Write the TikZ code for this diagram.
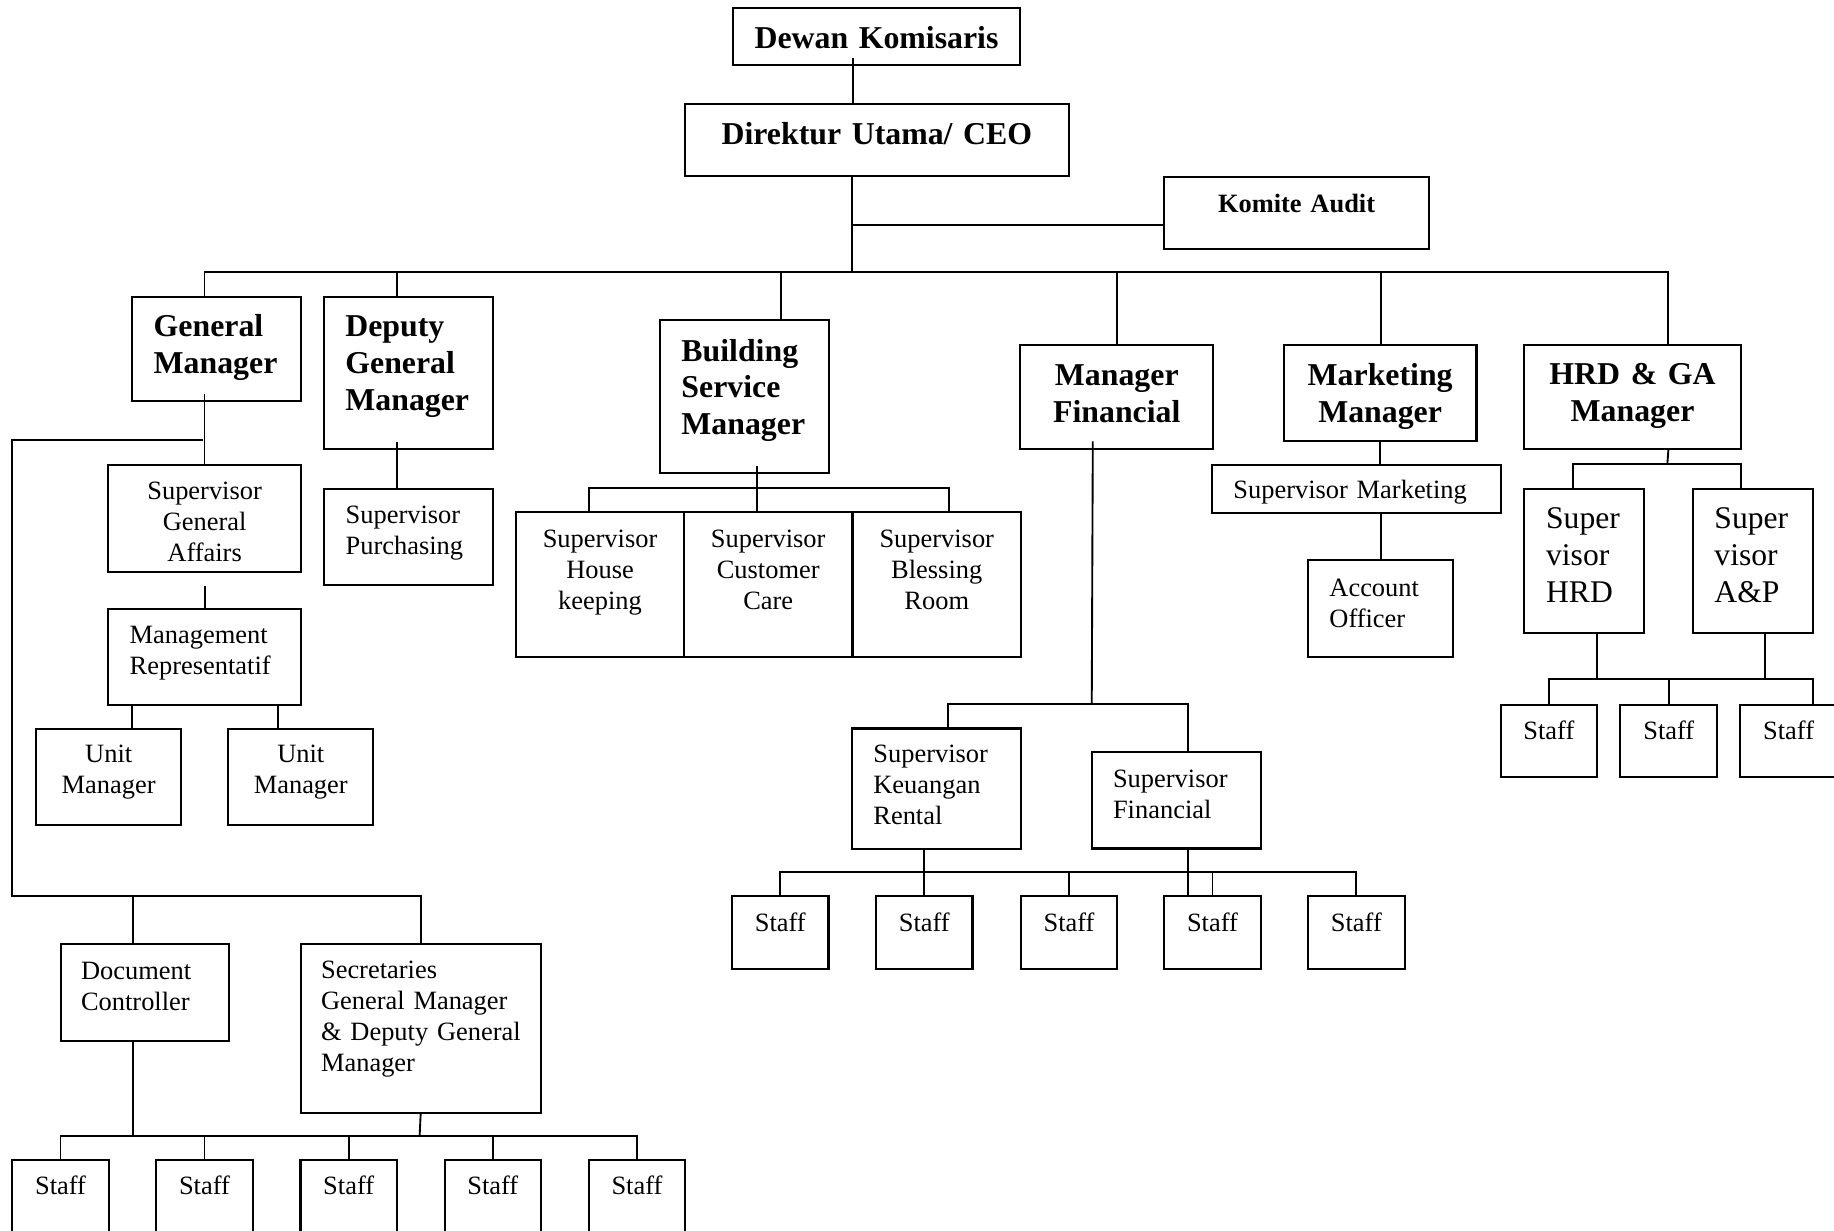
\documentclass[tikz,border=0pt]{standalone}
\usepackage{fontspec}
\setmainfont{Liberation Serif}

\newcommand{\regtext}{\fontsize{22.6}{26.5}\selectfont}
\newcommand{\headtext}{\fontsize{27.2}{31.5}\selectfont\bfseries}
\newcommand{\bigtext}{\fontsize{27}{31.7}\selectfont}
\newcommand{\katext}{\fontsize{22.6}{26.5}\selectfont\bfseries}

\tikzset{
	orgbox/.style={draw, line width=1.8pt, anchor=north west, inner ysep=0pt, align=center, font=\regtext},
	head/.style={font=\headtext},
	big/.style={font=\bigtext},
	lft/.style={align=left},
	conn/.style={line width=1.6pt}
}

% [opts]{name}{x1}{y1}{x2}{y2}{first baseline}{side pad}{text}
\newcommand{\orgnode}[9][]{%
	\pgfmathsetmacro{\obw}{#5-#3-2*#8}%
	\pgfmathsetmacro{\oth}{#7-#4}%
	\pgfmathsetmacro{\otd}{#6-#7}%
	\node[orgbox,#1,inner xsep=#8pt,text width=\obw pt,text height=\oth pt,text depth=\otd pt] (#2) at (#3,#4) {#9};%
}

\begin{document}
\begin{tikzpicture}[x=1pt,y=-1pt]
		\useasboundingbox (0,0) rectangle (1568,1052);
		\clip (0,0) rectangle (1568,1052);
		\orgnode[head]{dk}{625.4}{6.3}{871.5}{54.7}{40.5}{0}{Dewan Komisaris}
		\orgnode[head]{ceo}{584.6}{88.3}{912.9}{149.6}{122.5}{0}{Direktur Utama/ CEO}
		\orgnode[font=\katext]{ka}{994.5}{150.2}{1220.7}{212.3}{181}{0}{Komite Audit}
		\orgnode[head,lft]{gm}{112}{252.8}{256.5}{342}{287}{18.5}{General\\Manager}
		\orgnode[head,lft]{dgm}{276.4}{252.8}{420.4}{383.3}{287}{18}{Deputy\\General\\Manager}
		\orgnode[head,lft]{bsm}{563.4}{273}{707.8}{403.6}{307.8}{18.3}{Building\\Service\\Manager}
		\orgnode[head]{mf}{871.5}{294.1}{1036.3}{382.6}{328.6}{0}{Manager\\Financial}
		\orgnode[head]{mm}{1096.7}{294.1}{1261.4}{376.2}{329}{0}{Marketing\\Manager}
		\orgnode[head]{hrd}{1302}{294.1}{1487.7}{382.6}{328}{0}{HRD \& GA\\Manager}
		\orgnode{sga}{91.6}{396.6}{256.5}{488.2}{426.3}{0}{Supervisor\\General\\Affairs}
		\orgnode[lft]{mr}{91.8}{519.7}{256.5}{601.9}{549.3}{18.2}{Management\\Representatif}
		\orgnode{um1}{30.2}{622.2}{153.9}{704.5}{651.2}{0}{Unit\\Manager}
		\orgnode{um2}{194.4}{622.2}{318.1}{704.5}{651.2}{0}{Unit\\Manager}
		\orgnode[lft]{dc}{51}{806.5}{194.6}{889.2}{836.3}{17.4}{Document\\Controller}
		\orgnode[lft]{sec}{256.2}{806.5}{461.3}{950.5}{835.6}{17.4}{Secretaries\\General Manager\\\mbox{\& Deputy General}\\Manager}
		\orgnode[lft]{sp}{276.3}{417.1}{420.5}{499}{447}{18.3}{Supervisor\\Purchasing}
		\orgnode{shk}{440.3}{436.6}{583.9}{560.6}{467.4}{0}{Supervisor\\House\\keeping}
		\orgnode{scc}{583.9}{436.6}{727.9}{560.6}{467.4}{0}{Supervisor\\Customer\\Care}
		\orgnode{sbr}{727.9}{436.6}{872.1}{560.6}{467.4}{0}{Supervisor\\Blessing\\Room}
		\orgnode[lft]{skr}{727.6}{621.9}{872.1}{725}{651.2}{18.2}{Supervisor\\Keuangan\\Rental}
		\orgnode[lft]{sf}{932.6}{642.1}{1077.5}{724.5}{672}{18.1}{Supervisor\\Financial}
		\orgnode[lft]{smk}{1035.4}{396.7}{1282.5}{437.5}{425}{18.2}{Supervisor Marketing}
		\orgnode[lft]{ao}{1117.7}{478.2}{1241.7}{560.6}{509.3}{18}{Account\\Officer}
		\orgnode[big,lft]{shrd}{1302.4}{417}{1405}{540.4}{450.9}{18.6}{Super\\visor\\HRD}
		\orgnode[big,lft]{sap}{1446.4}{417}{1549}{540.4}{450.9}{18.5}{Super\\visor\\A\&P}
		\foreach \n/\xa/\xb in {1/625.1/707.4, 2/748.2/830.5, 3/871.7/954.4, 4/994.4/1077, 5/1117.4/1200.1}
			\orgnode{fs\n}{\xa}{765.5}{\xb}{827.6}{795.7}{0}{Staff};
		\foreach \n/\xa/\xb in {1/1282/1364.6, 2/1384.5/1467.2, 3/1487/1569.6}
			\orgnode{hs\n}{\xa}{602}{\xb}{663.2}{631.3}{0}{Staff};
		\foreach \n/\xa/\xb in {1/9.4/92.3, 2/132.7/215.1, 3/256/338.4, 4/379.2/461.7, 5/502.5/584.9}
			\orgnode{bs\n}{\xa}{990.9}{\xb}{1080}{1020.3}{0}{Staff};
		\coordinate (hub) at (728.2,232.3);
		\coordinate (gmj) at (173.9,375.9);
		\coordinate (lcorner) at (10.5,766);
		\coordinate (sbus) at (358.75,971.3);
		\coordinate (bsj) at (646.1,417.5);
		\coordinate (mfj) at (933.4,601.9);
		\coordinate (fbus) at (789.35,745.3);
		\coordinate (hrj) at (1425.5,396.7);
		\coordinate (hsb) at (1425.85,580.8);
		\draw[conn] ([xshift=-20.4pt,yshift=6.8pt]dk.south) -- ([xshift=-20.4pt]dk.south |- ceo.north);
		\draw[conn] (ceo.south -| hub) -- (hub);
		\draw[conn] ([yshift=-10.2pt]ka.west) -- ([yshift=-10.2pt]ka.west -| hub);
		\foreach \m/\dx in {gm/-10.35, dgm/-10.1, bsm/31.3, mf/0.3, mm/0.9, hrd/30.65}
			\draw[conn] (hub) -| ([xshift=\dx pt]\m.north);
		\draw[conn] ([xshift=-10.35pt,yshift=7.3pt]gm.south) -- ([xshift=-10.35pt]gm.south |- sga.north);
		\draw[conn] (gmj) -| (lcorner) -| (sec.north);
		\draw[conn] (lcorner) -| ([xshift=-10.2pt]dc.north);
		\draw[conn] ([yshift=-10.8pt]sga.south) -- (sga.south |- mr.north);
		\draw[conn] ([xshift=20.8pt]mr.south west) -- ([xshift=20.8pt]mr.south west |- um1.north);
		\draw[conn] ([xshift=-20.8pt]mr.south east) -- ([xshift=-20.8pt]mr.south east |- um2.north);
		\draw[conn] (sec.south) -- (sbus);
		\draw[conn] ([xshift=-10.2pt]dc.south) -- ([xshift=-10.2pt]dc.south |- sbus);
		\foreach \i in {1,...,5}
			\draw[conn] (sbus) -| (bs\i.north);
		\draw[conn] ([xshift=-10.1pt,yshift=7.4pt]dgm.south) -- ([xshift=-10.1pt]dgm.south |- sp.north);
		\draw[conn] ([xshift=10.5pt,yshift=6.9pt]bsm.south) -- ([xshift=10.5pt]bsm.south |- scc.north);
		\draw[conn] (bsj) -| ([xshift=-9.8pt]shk.north);
		\draw[conn] (bsj) -| ([xshift=10.1pt]sbr.north);
		\draw[conn] ([xshift=-20.5pt,yshift=7pt]mf.south) -- (mfj);
		\draw[conn] (mfj) -| ([xshift=9.65pt]skr.north);
		\draw[conn] (mfj) -| ([xshift=9.85pt]sf.north);
		\draw[conn] ([xshift=-10.5pt]skr.south) -- ([xshift=-10.5pt]skr.south |- fs2.north);
		\draw[conn] ([xshift=9.85pt]sf.south) -- ([xshift=9.85pt]sf.south |- fs4.north);
		\foreach \i in {1,...,5}
			\draw[conn] (fbus) -| (fs\i.north);
		\draw[conn] (mm.south) -- (mm.south |- smk.north);
		\draw[conn] (ao.north |- smk.south) -- (ao.north);
		\draw[conn] ([xshift=30.65pt]hrd.south) -- (hrj);
		\draw[conn] (hrj) -| ([xshift=-9.9pt]shrd.north);
		\draw[conn] (hrj) -| ([xshift=-10pt]sap.north);
		\draw[conn] ([xshift=10.6pt]shrd.south) -- ([xshift=10.6pt]shrd.south |- hsb);
		\draw[conn] ([xshift=10.3pt]sap.south) -- ([xshift=10.3pt]sap.south |- hsb);
		\draw[conn] (hsb) -| (hs1.north);
		\draw[conn] (hsb) -| (hs2.north);
		\draw[conn] (hsb) -| ([xshift=20.7pt]hs3.north);
	\end{tikzpicture}
\end{document}
